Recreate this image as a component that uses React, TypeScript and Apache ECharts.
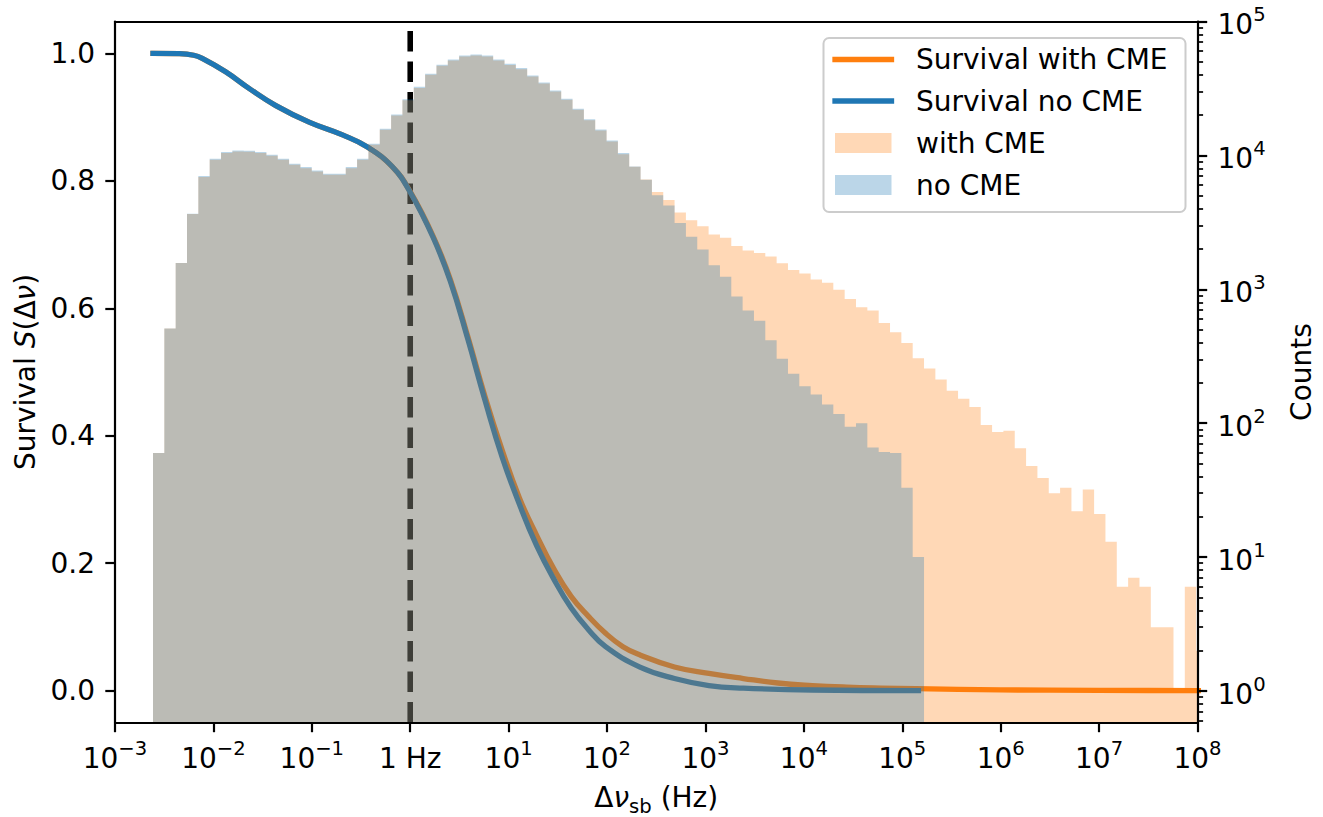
import React, { useEffect, useRef } from 'react';
import * as echarts from 'echarts';

// ---- Survival curves: frequency separation (Hz) and survival fraction ----
const NO_CME_FREQ = [
  0.002433, 0.0045, 0.0063, 0.0077, 0.0133, 0.023, 0.0431, 0.0938, 0.205, 0.367, 0.659,
  1.0, 1.71, 2.56, 3.84, 5.74, 8.61, 12.9, 19.2, 28.8, 43.1,
  64.4, 96.6, 216, 484, 1084, 2427, 12190, 146000,
];
const NO_CME_SURVIVAL = [
  1.0, 0.9995, 0.997, 0.992, 0.971, 0.945, 0.918, 0.892, 0.872, 0.853, 0.822,
  0.782, 0.711, 0.642, 0.552, 0.456, 0.366, 0.292, 0.228, 0.175, 0.13,
  0.096, 0.069, 0.037, 0.019, 0.008, 0.004, 0.001, 0.0,
];
const WITH_CME_FREQ = [
  0.002433, 0.0045, 0.0063, 0.0077, 0.0133, 0.023, 0.0431, 0.0938, 0.205, 0.367, 0.659,
  1.0, 1.71, 2.56, 3.84, 5.74, 8.61, 12.9, 19.2, 28.8, 43.1,
  64.4, 96.6, 145, 216, 484, 1084, 2427, 5433, 12190, 27290,
  61240, 137000, 1.0e6, 1.0e7, 1.0e8, 1.2e8,
];
const WITH_CME_SURVIVAL = [
  1.0, 0.9995, 0.997, 0.992, 0.971, 0.945, 0.918, 0.892, 0.872, 0.853, 0.822,
  0.783, 0.713, 0.645, 0.556, 0.462, 0.377, 0.302, 0.244, 0.191, 0.148,
  0.117, 0.09, 0.069, 0.056, 0.037, 0.027, 0.019, 0.012, 0.008, 0.0055,
  0.004, 0.003, 0.0012, 0.0004, 0.0001, 0.0,
];

// ---- Histograms: log-spaced bins shared by both samples ----
const BIN_FIRST_EDGE_HZ = 2.433e-3;
const BIN_WIDTH_DEX = 0.11522;
const COUNTS_WITH_CME = [
  60, 509, 1570, 3650, 6890, 9270, 10400, 10700, 10650, 10400,
  9940, 9270, 8510, 8030, 7590, 7170, 7160, 8030, 9270, 12000,
  15530, 19870, 25830, 31920, 40010, 46690, 51070, 54700, 55730, 54700,
  51070, 47430, 44060, 38830, 34450, 30000, 26010, 21940, 18320, 15350,
  12710, 10210, 8240, 6620, 5320, 4645, 3750, 3275, 2958, 2570,
  2427, 2109, 1945, 1871, 1758, 1567, 1396, 1312, 1186, 1119,
  993, 847, 736, 695, 560, 478, 398, 305, 256, 212,
  175, 152, 132, 97, 86, 88, 65, 48, 39, 30,
  33, 22, 32, 21, 13, 6, 7, 6, 3, 3,
  1, 6, 2,
];
const COUNTS_NO_CME = [
  60, 509, 1574, 3673, 7015, 9440, 10590, 10890, 10850, 10590,
  10120, 9440, 8670, 8180, 7730, 7300, 7290, 8180, 9440, 12220,
  15810, 20230, 26300, 32500, 40740, 47540, 52000, 55700, 56750, 55700,
  52000, 48300, 44870, 39540, 35080, 30550, 26490, 22340, 18660, 15630,
  12940, 10400, 8280, 6590, 5050, 4230, 3130, 2470, 1980, 1514,
  1239, 885, 695, 582, 416, 303, 234, 189, 164, 138,
  117, 94, 100, 66, 61, 60, 33, 10,
];

// Reference marker frequency (Hz)
const MARKER_HZ = 1;

// ---- Axes ----
const FREQ_MIN_HZ = 1e-3;
const FREQ_MAX_HZ = 1e8;
const X_TICK_EXPONENTS = [-3, -2, -1, 0, 1, 2, 3, 4, 5, 6, 7, 8];
const SURVIVAL_MIN = -0.05;
const SURVIVAL_MAX = 1.05;
const SURVIVAL_TICKS = [0, 0.2, 0.4, 0.6, 0.8, 1.0];
const COUNT_AXIS_MIN = 0.582;
const COUNT_AXIS_MAX = 1e5;
const COUNT_TICK_EXPONENTS = [0, 1, 2, 3, 4, 5];

const FONT = '"DejaVu Sans", sans-serif';
const FS = 28;
const ORANGE = '#ff7f0e';
const BLUE = '#1f77b4';
const ORANGE_FILL = 'rgba(255,127,14,0.3)';
const BLUE_FILL = 'rgba(31,119,180,0.3)';

const lg = (v: number) => Math.log10(v);

const minorCountTicks = (): number[] => {
  const out: number[] = [];
  for (let e = -1; e <= 4; e++) {
    for (let m = 2; m <= 9; m++) {
      const v = m * Math.pow(10, e);
      if (v >= COUNT_AXIS_MIN && v <= COUNT_AXIS_MAX) out.push(lg(v));
    }
  }
  return out;
};

// Base "10" sits at the bottom of the line, the exponent at its top
const supRich = {
  b: { fontSize: FS, lineHeight: 34, verticalAlign: 'bottom', fontFamily: FONT, color: '#000' },
  s: { fontSize: 19.6, lineHeight: 20, verticalAlign: 'top', fontFamily: FONT, color: '#000' },
};

const powerLabel = (v: number) => {
  const e = Math.round(v);
  return `{b|10}{s|${e < 0 ? '\u2212' : ''}${Math.abs(e)}}`;
};

const histogramRenderer = (counts: number[], fill: string) => (_params: any, api: any) => {
  const start = lg(BIN_FIRST_EDGE_HZ);
  const xMax = lg(FREQ_MAX_HZ);
  const yBase = lg(COUNT_AXIS_MIN);
  const pts: number[][] = [api.coord([start, yBase])];
  let lastX = start;
  for (let k = 0; k < counts.length; k++) {
    const x0 = start + k * BIN_WIDTH_DEX;
    if (x0 >= xMax) break;
    const x1 = Math.min(start + (k + 1) * BIN_WIDTH_DEX, xMax);
    const y = lg(counts[k]);
    pts.push(api.coord([x0, y]), api.coord([x1, y]));
    lastX = x1;
  }
  pts.push(api.coord([lastX, yBase]));
  return {
    type: 'polygon',
    shape: { points: pts },
    style: { fill, stroke: null, lineWidth: 0 },
    silent: true,
  };
};

const axisLineStyle = { color: '#000', width: 2.2 };

const buildOption = () => {
  const legendY = [59.5, 101, 143, 185];
  const legendTexts = ['Survival with CME', 'Survival no CME', 'with CME', 'no CME'];
  const graphic: any[] = [
    {
      type: 'rect', z: 100,
      shape: { x: 823.5, y: 38, width: 362, height: 174, r: 5.6 },
      style: { fill: 'rgba(255,255,255,0.8)', stroke: '#cccccc', lineWidth: 2 },
    },
    {
      type: 'line', z: 101,
      shape: { x1: 835, y1: legendY[0], x2: 891.5, y2: legendY[0] },
      style: { stroke: ORANGE, lineWidth: 5.3, lineCap: 'square' },
    },
    {
      type: 'line', z: 101,
      shape: { x1: 835, y1: legendY[1], x2: 891.5, y2: legendY[1] },
      style: { stroke: BLUE, lineWidth: 5.3, lineCap: 'square' },
    },
    {
      type: 'rect', z: 101,
      shape: { x: 835, y: legendY[2] - 10, width: 56.5, height: 20 },
      style: { fill: ORANGE_FILL },
    },
    {
      type: 'rect', z: 101,
      shape: { x: 835, y: legendY[3] - 10, width: 56.5, height: 20 },
      style: { fill: BLUE_FILL },
    },
    ...legendTexts.map((t, i) => ({
      type: 'text', z: 101,
      style: {
        text: t, x: 916, y: legendY[i],
        fontSize: FS, fontFamily: FONT, fill: '#000',
        align: 'left', verticalAlign: 'middle',
        textAlign: 'left', textVerticalAlign: 'middle',
      },
    })),
  ];

  return {
    animation: false,
    backgroundColor: '#ffffff',
    grid: { left: 115, top: 21.5, width: 1082.5, height: 701, containLabel: false, outerBoundsMode: 'none' },
    xAxis: [
      {
        type: 'value', position: 'bottom', min: lg(FREQ_MIN_HZ), max: lg(FREQ_MAX_HZ), interval: 1, z: 10,
        axisLine: { show: true, onZero: false, lineStyle: axisLineStyle },
        axisTick: { show: true, length: 9.7, lineStyle: axisLineStyle, customValues: X_TICK_EXPONENTS },
        axisLabel: {
          show: true, margin: 16, customValues: X_TICK_EXPONENTS,
          formatter: (v: number) => (Math.round(v) === 0 ? '{b|1 Hz}' : powerLabel(v)),
          rich: supRich,
        },
        splitLine: { show: false },
        name: '{t|\u0394}{i|\u03bd}{sub|sb}{t| (Hz)}',
        nameLocation: 'middle', nameGap: 64,
        nameTextStyle: {
          rich: {
            t: { fontSize: FS, lineHeight: 30, verticalAlign: 'bottom', padding: [0, 0, 5, 0], fontFamily: FONT, color: '#000' },
            i: { fontSize: FS, lineHeight: 30, verticalAlign: 'bottom', padding: [0, 0, 5, 0], fontFamily: FONT, fontStyle: 'italic', color: '#000' },
            sub: { fontSize: 19.6, lineHeight: 30, verticalAlign: 'bottom', fontFamily: FONT, color: '#000' },
          },
        },
      },
      {
        type: 'value', position: 'top', min: lg(FREQ_MIN_HZ), max: lg(FREQ_MAX_HZ), z: 10,
        axisLine: { show: true, onZero: false, lineStyle: axisLineStyle },
        axisTick: { show: false }, axisLabel: { show: false }, splitLine: { show: false },
      },
    ],
    yAxis: [
      {
        type: 'value', position: 'left', min: SURVIVAL_MIN, max: SURVIVAL_MAX, z: 10,
        axisLine: { show: true, onZero: false, lineStyle: axisLineStyle },
        axisTick: { show: true, length: 9.7, lineStyle: axisLineStyle, customValues: SURVIVAL_TICKS },
        axisLabel: {
          show: true, margin: 20, customValues: SURVIVAL_TICKS,
          formatter: (v: number) => v.toFixed(1),
          fontSize: FS, fontFamily: FONT, color: '#000',
        },
        splitLine: { show: false },
        name: '{t|Survival }{i|S}{t|(\u0394}{i|\u03bd}{t|)}',
        nameLocation: 'middle', nameGap: 70, nameRotate: 90,
        nameTextStyle: {
          rich: {
            t: { fontSize: FS, lineHeight: 34, fontFamily: FONT, color: '#000' },
            i: { fontSize: FS, lineHeight: 34, fontFamily: FONT, fontStyle: 'italic', color: '#000' },
          },
        },
      },
      {
        type: 'value', position: 'right', min: lg(COUNT_AXIS_MIN), max: lg(COUNT_AXIS_MAX), z: 10,
        axisLine: { show: true, onZero: false, lineStyle: axisLineStyle },
        axisTick: { show: true, length: 9.7, lineStyle: axisLineStyle, customValues: COUNT_TICK_EXPONENTS },
        axisLabel: {
          show: true, margin: 20, customValues: COUNT_TICK_EXPONENTS,
          formatter: powerLabel, rich: supRich,
        },
        splitLine: { show: false },
        name: 'Counts', nameLocation: 'middle', nameGap: 87, nameRotate: 90,
        nameTextStyle: { fontSize: FS, lineHeight: 34, fontFamily: FONT, color: '#000' },
      },
      {
        type: 'value', position: 'right', min: lg(COUNT_AXIS_MIN), max: lg(COUNT_AXIS_MAX), z: 10,
        axisLine: { show: false, onZero: false },
        axisTick: { show: true, length: 5.6, lineStyle: { color: '#000', width: 1.7 }, customValues: minorCountTicks() },
        axisLabel: { show: false }, splitLine: { show: false },
      },
    ],
    series: [
      {
        type: 'line', name: 'marker', xAxisIndex: 0, yAxisIndex: 0, z: 1,
        data: [[lg(MARKER_HZ), SURVIVAL_MIN], [lg(MARKER_HZ), SURVIVAL_MAX]],
        showSymbol: false, silent: true,
        lineStyle: { color: '#000', width: 5.6, type: [20.5, 10], cap: 'butt' },
      },
      {
        type: 'line', name: 'Survival with CME', xAxisIndex: 0, yAxisIndex: 0, z: 2,
        data: WITH_CME_FREQ.map((f, i) => [lg(f), WITH_CME_SURVIVAL[i]]),
        showSymbol: false, silent: true, smooth: 0.45,
        lineStyle: { color: ORANGE, width: 5.3, cap: 'square', join: 'round' },
      },
      {
        type: 'line', name: 'Survival no CME', xAxisIndex: 0, yAxisIndex: 0, z: 3,
        data: NO_CME_FREQ.map((f, i) => [lg(f), NO_CME_SURVIVAL[i]]),
        showSymbol: false, silent: true, smooth: 0.45,
        lineStyle: { color: BLUE, width: 5.3, cap: 'square', join: 'round' },
      },
      {
        type: 'custom', name: 'with CME', xAxisIndex: 0, yAxisIndex: 1, z: 4,
        data: [[0, 0]], silent: true,
        renderItem: histogramRenderer(COUNTS_WITH_CME, ORANGE_FILL),
      },
      {
        type: 'custom', name: 'no CME', xAxisIndex: 0, yAxisIndex: 1, z: 5,
        data: [[0, 0]], silent: true,
        renderItem: histogramRenderer(COUNTS_NO_CME, BLUE_FILL),
      },
    ],
    graphic,
  };
};

export default function App() {
  const ref = useRef<HTMLDivElement>(null);
  useEffect(() => {
    if (!ref.current) return;
    const chart = echarts.init(ref.current, null, { renderer: 'svg' });
    chart.setOption(buildOption() as any);
    return () => chart.dispose();
  }, []);
  return (
    <div
      ref={ref}
      style={{ position: 'fixed', left: 0, top: 0, width: 1323, height: 817, background: '#ffffff' }}
    />
  );
}
